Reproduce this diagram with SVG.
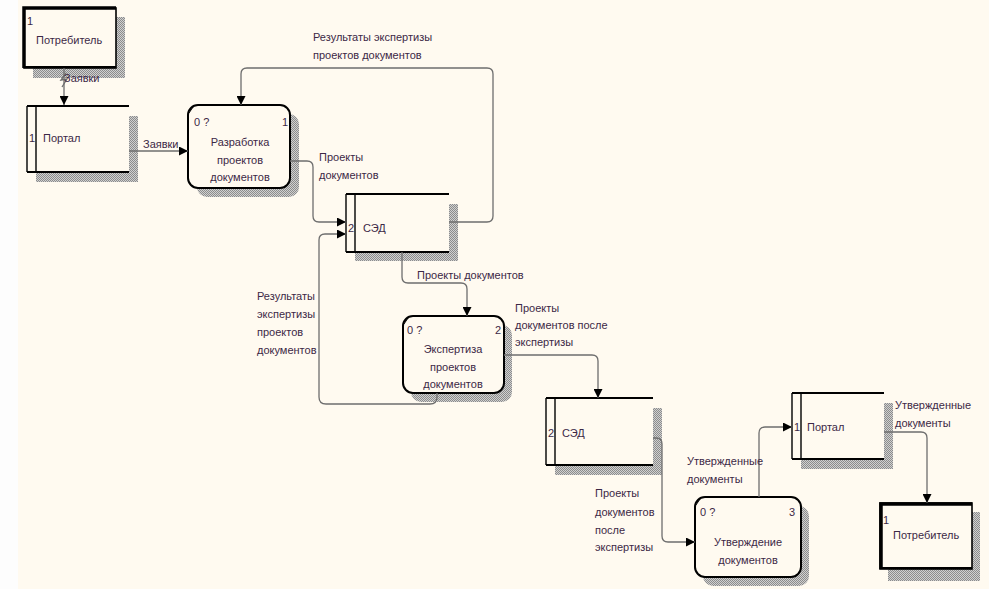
<svg xmlns="http://www.w3.org/2000/svg" width="989" height="589" viewBox="0 0 989 589">
<style>
text{font-family:"Liberation Sans",Arial,sans-serif;font-size:11px;fill:#3c2846}
.c{text-anchor:middle}
.conn path{fill:none;stroke:#6e6e6e;stroke-width:1.3}
.sh{fill:url(#dots)}
.box{fill:#fffaf0;stroke:#000;stroke-width:1.6}
.proc{fill:#fffaf0;stroke:#000;stroke-width:2}
.thick{stroke:#000;stroke-width:3.5;fill:none}
.ln{stroke:#000;stroke-width:2;fill:none}
.ln1{stroke:#000;stroke-width:1.4;fill:none}
</style>
<defs>
<pattern id="dots" width="2" height="2" patternUnits="userSpaceOnUse">
<rect width="2" height="2" fill="#d0d0d0"/>
<rect width="1" height="1" fill="#8c8c8c"/>
<rect x="1" y="1" width="1" height="1" fill="#8c8c8c"/>
</pattern>
<marker id="ah" markerUnits="userSpaceOnUse" markerWidth="10" markerHeight="9" refX="9" refY="4.5" orient="auto">
<path d="M0,0 L9,4.5 L0,9 Z" fill="#000"/>
</marker>
</defs>
<rect x="0" y="0" width="989" height="589" fill="#fdfdfd"/>
<rect x="18" y="0" width="971" height="589" fill="#fffaf0"/>

<g id="consumer1">
<rect class="sh" x="33" y="17" width="92" height="61"/>
<rect class="box" x="24" y="8" width="92" height="60"/>
<path class="thick" d="M24,68 V8 H116"/>
<path class="ln" d="M24,67 H116"/>
<text x="27" y="25">1</text>
<text x="36" y="44">Потребитель</text>
</g>

<g id="portal1">
<rect class="sh" x="36" y="116" width="102" height="66"/>
<rect x="27" y="106" width="102" height="66" fill="#fffaf0"/>
<path class="ln" d="M27,106 H129 M27,172 H129"/>
<path class="ln1" d="M27,106 V172 M36,106 V172"/>
<text x="29" y="142">1</text>
<text x="43" y="142">Портал</text>
</g>

<g id="process1">
<rect class="sh" x="197" y="114" width="102" height="83" rx="10"/>
<rect class="proc" x="188" y="105" width="102" height="83" rx="10"/>
<path d="M189,113 L193,107" stroke="#000" stroke-width="1"/>
<text x="194" y="126">0 ?</text>
<text x="282" y="126">1</text>
<text class="c" x="240" y="146">Разработка</text>
<text class="c" x="240" y="164">проектов</text>
<text class="c" x="240" y="181">документов</text>
</g>

<g id="sed1">
<rect class="sh" x="355" y="204" width="103" height="57"/>
<rect x="346" y="194" width="103" height="58" fill="#fffaf0"/>
<path class="ln" d="M346,194 H449 M346,252 H449"/>
<path class="ln1" d="M346,194 V252 M355,194 V252"/>
<text x="348" y="232">2</text>
<text x="363" y="232">СЭД</text>
</g>

<g id="process2">
<rect class="sh" x="411" y="325" width="101" height="77" rx="10"/>
<rect class="proc" x="403" y="316" width="101" height="77" rx="10"/>
<path d="M404,324 L408,318" stroke="#000" stroke-width="1"/>
<text x="407" y="334">0 ?</text>
<text x="495" y="334">2</text>
<text class="c" x="453" y="353">Экспертиза</text>
<text class="c" x="453" y="371">проектов</text>
<text class="c" x="453" y="388">документов</text>
</g>

<g id="sed2">
<rect class="sh" x="555" y="408" width="107" height="67"/>
<rect x="546" y="398" width="107" height="67" fill="#fffaf0"/>
<path class="ln" d="M546,398 H653 M546,465 H653"/>
<path class="ln1" d="M546,398 V465 M555,398 V465"/>
<text x="548" y="437">2</text>
<text x="562" y="437">СЭД</text>
</g>

<g id="process3">
<rect class="sh" x="703" y="506" width="106" height="80" rx="10"/>
<rect class="proc" x="695" y="497" width="106" height="80" rx="10"/>
<path d="M696,505 L700,499" stroke="#000" stroke-width="1"/>
<text x="700" y="516">0 ?</text>
<text x="789" y="516">3</text>
<text class="c" x="748" y="546">Утверждение</text>
<text class="c" x="748" y="564">документов</text>
</g>

<g id="portal2">
<rect class="sh" x="801" y="403" width="92" height="66"/>
<rect x="792" y="393" width="92" height="66" fill="#fffaf0"/>
<path class="ln" d="M792,393 H884 M792,459 H884"/>
<path class="ln1" d="M792,393 V459 M801,393 V459"/>
<text x="794" y="431">1</text>
<text x="807" y="431">Портал</text>
</g>

<g id="consumer2">
<rect class="sh" x="888" y="512" width="92" height="69"/>
<rect class="box" x="880" y="503" width="92" height="66"/>
<path class="thick" d="M881,569 V504 H972"/>
<path class="ln" d="M880,568 H972"/>
<text x="883" y="524">1</text>
<text x="893" y="539">Потребитель</text>
</g>

<g id="connectors" class="conn">
<path d="M64,68 V105" marker-end="url(#ah)"/>
<path d="M66,73 L61,80 L67,79 L62,87" stroke-width="1"/>
<path d="M129,151 H188" marker-end="url(#ah)"/>
<path d="M290,161 H307 Q313,161 313,167 V216 Q313,222 319,222 H346" marker-end="url(#ah)"/>
<path d="M449,222 H487 Q493,222 493,216 V74 Q493,68 487,68 H247 Q241,68 241,74 V105" marker-end="url(#ah)"/>
<path d="M437,393 V397 Q437,404 430,404 H326 Q319,404 319,397 V240 Q319,234 325,234 H346" marker-end="url(#ah)"/>
<path d="M402,252 V277 Q402,283 408,283 H461 Q467,283 467,289 V316" marker-end="url(#ah)"/>
<path d="M504,355 H592 Q598,355 598,361 V398" marker-end="url(#ah)"/>
<path d="M653,438 H656 Q662,438 662,444 V536 Q662,542 668,542 H695" marker-end="url(#ah)"/>
<path d="M759,497 V433 Q759,427 765,427 H792" marker-end="url(#ah)"/>
<path d="M884,432 H921 Q927,432 927,438 V503" marker-end="url(#ah)"/>
</g>

<g id="labels">
<text x="64" y="82">Заявки</text>
<text x="143" y="148">Заявки</text>
<text x="319" y="161">Проекты</text>
<text x="319" y="179">документов</text>
<text x="313" y="41">Результаты экспертизы</text>
<text x="313" y="59">проектов документов</text>
<text x="417" y="279">Проекты документов</text>
<text x="257" y="300">Результаты</text>
<text x="257" y="318">экспертизы</text>
<text x="257" y="336">проектов</text>
<text x="257" y="354">документов</text>
<text x="515" y="312">Проекты</text>
<text x="515" y="329">документов после</text>
<text x="515" y="346">экспертизы</text>
<text x="595" y="497">Проекты</text>
<text x="595" y="516">документов</text>
<text x="595" y="534">после</text>
<text x="595" y="551">экспертизы</text>
<text x="687" y="465">Утвержденные</text>
<text x="687" y="483">документы</text>
<text x="895" y="409">Утвержденные</text>
<text x="895" y="427">документы</text>
</g>
</svg>
